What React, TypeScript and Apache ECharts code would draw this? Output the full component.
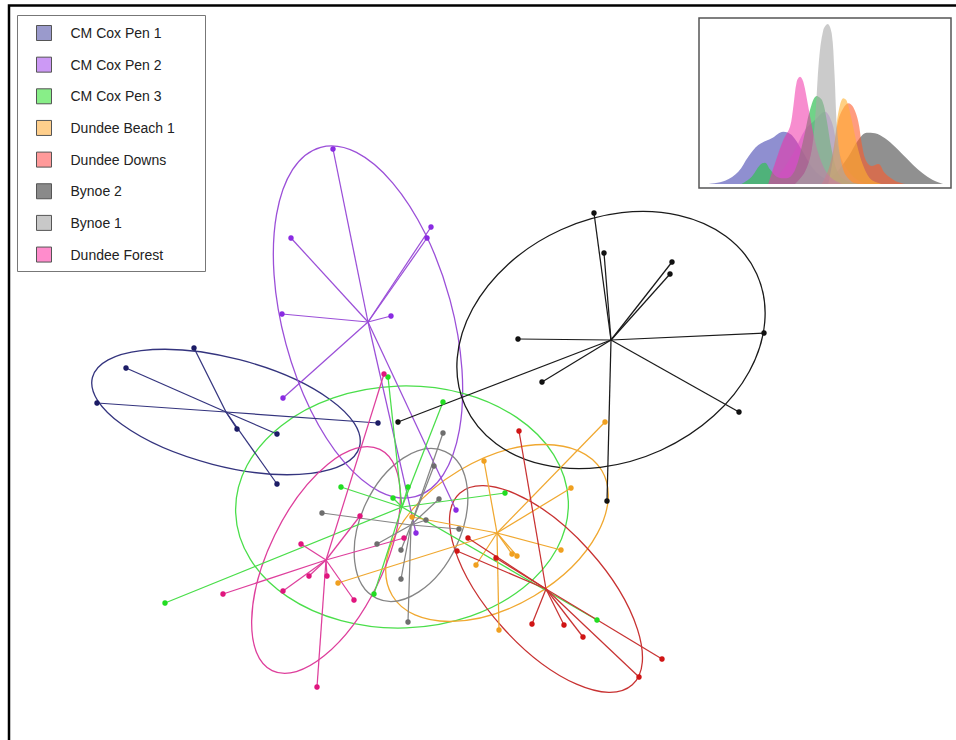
import React, { useEffect, useRef } from 'react';
import * as echarts from 'echarts';

// ---- Groups (legend order) ----
const groupNames = ['CM Cox Pen 1', 'CM Cox Pen 2', 'CM Cox Pen 3', 'Dundee Beach 1', 'Dundee Downs', 'Bynoe 2', 'Bynoe 1', 'Dundee Forest'];
const legendColors = ['#9a9acc', '#cc99f5', '#88ee88', '#ffcf8c', '#ff9a9a', '#8a8a8a', '#c8c8c8', '#ff8ccc'];
const lineColors = ['#34347e', '#9b4fd8', '#4ade4a', '#f0a830', '#c83232', '#1a1a1a', '#858585', '#de3f9c'];
const pointColors = ['#1c1c66', '#8a2be2', '#22dd22', '#f0a020', '#d01515', '#111111', '#6e6e6e', '#e0157e'];

// ---- Ordination points (pixel-scaled plot units) ----
const coxPen1Points = [[194, 348], [126, 368], [97, 403], [378, 423], [237, 429], [277, 434], [277, 484]];
const coxPen2Points = [[333, 149], [291, 238], [431, 227], [427, 238], [282, 314], [391, 316], [283, 398], [456, 510], [416, 533]];
const coxPen3Points = [[388, 377], [443, 402], [408, 487], [393, 498], [341, 487], [505, 493], [374, 594], [165, 603], [597, 620]];
const beach1Points = [[605, 422], [484, 461], [571, 488], [561, 550], [512, 554], [517, 556], [476, 565], [499, 630], [338, 583], [412, 517]];
const downsPoints = [[519, 431], [468, 538], [457, 551], [496, 558], [532, 624], [564, 625], [583, 637], [662, 659], [639, 677]];
const bynoe2Points = [[594, 213], [604, 253], [672, 262], [670, 274], [518, 339], [764, 333], [542, 382], [739, 412], [607, 501], [398, 422]];
const bynoe1Points = [[443, 433], [434, 466], [439, 499], [322, 513], [426, 520], [459, 529], [377, 544], [401, 550], [401, 579], [408, 622]];
const forestPoints = [[360, 516], [301, 544], [404, 538], [309, 576], [327, 576], [283, 591], [223, 594], [354, 600], [317, 687], [384, 374]];

// ---- Centroids ----
const centroids = [[226, 412], [368, 322], [402, 507], [497, 533], [546, 589], [611, 340], [411, 525], [326, 560]];

// ---- Ellipses: [cx, cy, rx, ry, clockwise angle (deg)] ----
const ellipses = [
  [226, 412, 138, 54, 14.5],
  [368, 322, 181, 85, 74.9],
  [402, 507, 166.5, 121, -2],
  [497, 533, 122, 73, -30.8],
  [546, 589, 129, 58, 48],
  [611, 340, 160, 121, -24.4],
  [411, 525, 81, 50, -65],
  [326, 560, 123, 57, -64],
];

const groupPoints = [coxPen1Points, coxPen2Points, coxPen3Points, beach1Points, downsPoints, bynoe2Points, bynoe1Points, forestPoints];

// ---- Inset density curves: [x, height] ----
const densityCox1 = [[8.3, 0], [25, 3.3], [38.3, 12.3], [48.3, 27.3], [58.3, 39], [71.7, 45.7], [83.3, 52.3], [91.7, 49], [101.7, 34], [111.7, 17.3], [121.7, 7.3], [135, 1.3], [148.3, 0]];
const densityBynoe2 = [[121.7, 0], [135, 10], [148.3, 27.3], [158.3, 44], [166.7, 51.3], [175, 50.7], [185, 45.7], [195, 37.3], [205, 27.3], [215, 17.3], [225, 9], [235, 3], [243.3, 0]];
const densityCox2 = [[71.7, 0], [85, 17.3], [95, 34], [105, 54], [115, 64], [125, 72.3], [131.7, 62.3], [136.7, 40.7], [143.3, 20.7], [153.3, 7.3], [165, 0]];
const densityCox3 = [[41.7, 0], [51.7, 7.3], [60, 19], [65, 21.3], [70, 14.7], [76.7, 7.3], [86.7, 5.7], [95, 14], [103.3, 44], [110, 74], [116.7, 88], [122.3, 83.3], [126.7, 64], [131.7, 34], [138.3, 10.7], [148.3, 2.3], [161.7, 0]];
const densityDowns = [[121.7, 0], [128.3, 14], [133.3, 34], [138.3, 64], [143.3, 75.7], [148.3, 80.7], [153.3, 76.7], [158.3, 62.3], [161.7, 40.7], [165.7, 24], [171.7, 18], [178.3, 20], [185, 10.7], [195, 3.3], [205, 0]];
const densityBeach1 = [[128.3, 0], [133.3, 27.3], [136.7, 60.7], [140, 79], [143.3, 85.7], [146.7, 83.3], [151.7, 64], [158.3, 34], [165, 14], [171.7, 4], [181.7, 0]];
const densityForest = [[68.3, 0], [75, 20.7], [83.3, 44], [90, 57.3], [93.3, 77.3], [96.7, 102.3], [100, 107.3], [103.3, 102.3], [108.3, 77.3], [113.3, 50.7], [118.3, 30.7], [125, 14], [131.7, 5.7], [141.7, 0]];
const densityBynoe1 = [[95, 0], [105, 12.3], [111.7, 34], [115.7, 74], [119, 124], [123.3, 154], [127.7, 160], [131.7, 150.7], [134.3, 114], [137.7, 47.3], [143.3, 14], [151.7, 2.3], [161.7, 0]];

const densitySeries = [
  { data: densityCox1, color: '#6a6ac0', opacity: 0.75 },
  { data: densityBynoe2, color: '#555555', opacity: 0.65 },
  { data: densityCox2, color: '#b070e0', opacity: 0.5 },
  { data: densityCox3, color: '#33c055', opacity: 0.7 },
  { data: densityDowns, color: '#ff5a2a', opacity: 0.6 },
  { data: densityBeach1, color: '#ffb030', opacity: 0.6 },
  { data: densityForest, color: '#f030a8', opacity: 0.55 },
  { data: densityBynoe1, color: '#a8a8a8', opacity: 0.6 },
];

export default function App() {
  const ref = useRef<HTMLDivElement>(null);
  useEffect(() => {
    if (!ref.current) return;
    const chart = echarts.init(ref.current, null, { renderer: 'svg' });
    const series: any[] = [];
    groupNames.forEach((name, i) => {
      const color = lineColors[i];
      series.push({
        type: 'custom',
        name,
        xAxisIndex: 0,
        yAxisIndex: 0,
        data: [ellipses[i]],
        clip: false,
        silent: true,
        z: 2,
        renderItem: (params: any, api: any) => {
          const c = api.coord([api.value(0), api.value(1)]);
          const s = api.size([api.value(2), api.value(3)]);
          return {
            type: 'ellipse',
            x: c[0],
            y: c[1],
            rotation: (-api.value(4) * Math.PI) / 180,
            shape: { cx: 0, cy: 0, rx: Math.abs(s[0]), ry: Math.abs(s[1]) },
            style: { fill: 'none', stroke: color, lineWidth: 1.3 },
          };
        },
      });
      series.push({
        type: 'lines',
        name,
        coordinateSystem: 'cartesian2d',
        xAxisIndex: 0,
        yAxisIndex: 0,
        silent: true,
        z: 3,
        lineStyle: { color, width: 1.25, opacity: 1 },
        data: groupPoints[i].map((p) => ({ coords: [centroids[i], p] })),
      });
      series.push({
        type: 'scatter',
        name,
        xAxisIndex: 0,
        yAxisIndex: 0,
        symbol: 'circle',
        symbolSize: 5.5,
        z: 4,
        itemStyle: { color: pointColors[i], opacity: 1 },
        data: groupPoints[i],
      });
    });
    densitySeries.forEach((d) => {
      series.push({
        type: 'line',
        xAxisIndex: 1,
        yAxisIndex: 1,
        data: d.data,
        smooth: 0.35,
        symbol: 'none',
        showSymbol: false,
        silent: true,
        lineStyle: { width: 0 },
        areaStyle: { color: d.color, opacity: d.opacity },
        z: 5,
      });
    });

    chart.setOption({
      animation: false,
      grid: [
        { left: 0, top: 0, width: 956, height: 740, show: false },
        { left: 699, top: 18, width: 252, height: 170, show: true, borderColor: '#555', borderWidth: 1.5, backgroundColor: '#fff', z: 1 },
      ],
      xAxis: [
        { type: 'value', gridIndex: 0, min: 0, max: 956, show: false },
        { type: 'value', gridIndex: 1, min: -1, max: 251, show: false },
      ],
      yAxis: [
        { type: 'value', gridIndex: 0, min: 0, max: 740, inverse: true, show: false },
        { type: 'value', gridIndex: 1, min: -4, max: 166, show: false },
      ],
      legend: {
        data: groupNames.map((n, i) => ({
          name: n,
          itemStyle: { color: legendColors[i], borderColor: '#555', borderWidth: 1 },
        })),
        orient: 'vertical',
        left: 36,
        top: 25,
        padding: 0,
        itemWidth: 15,
        itemHeight: 15,
        itemGap: 15.65,
        icon: 'rect',
        selectedMode: false,
        z: 10,
        itemStyle: { borderColor: '#555', borderWidth: 1 },
        textStyle: {
          fontSize: 14,
          color: '#222',
          fontFamily: 'Liberation Sans, Arial, sans-serif',
          padding: [0, 0, 0, 14],
          lineHeight: 15,
        },
      },
      graphic: [
        {
          type: 'rect',
          z: 0,
          silent: true,
          shape: { x: 17.5, y: 15.5, width: 188, height: 256 },
          style: { fill: '#fff', stroke: '#777', lineWidth: 1 },
        },
        {
          type: 'polyline',
          z: 100,
          silent: true,
          shape: { points: [[9, 740], [9, 5.5], [956, 5.5]] },
          style: { fill: 'none', stroke: '#000', lineWidth: 2.5 },
        },
      ],
      series,
    });
    return () => chart.dispose();
  }, []);
  return <div ref={ref} style={{ position: 'absolute', left: 0, top: 0, width: 956, height: 740, background: '#fff' }} />;
}
